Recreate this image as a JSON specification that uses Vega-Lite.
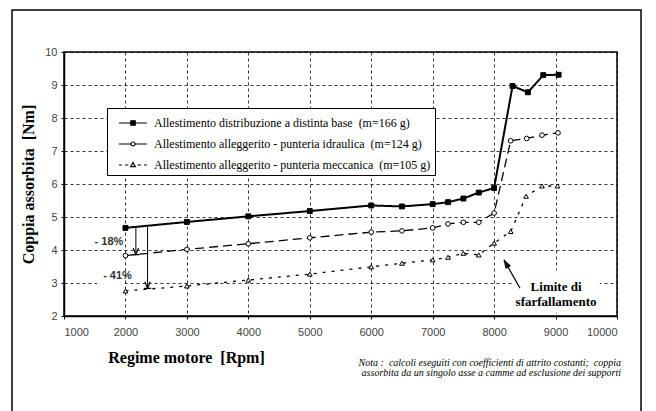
{
  "$schema": "https://vega.github.io/schema/vega-lite/v6.json",
  "width": 553,
  "height": 264,
  "autosize": "none",
  "padding": {"left": 64, "top": 52, "right": 39, "bottom": 95},
  "background": "white",
  "config": {"view": {"stroke": "black", "strokeWidth": 1.5}},
  "datasets": {
    "curves": [
      {"rpm": 2000, "coppia": 4.67, "series": "Allestimento distribuzione a distinta base\u00a0\u00a0(m=166 g)"},
      {"rpm": 3000, "coppia": 4.85, "series": "Allestimento distribuzione a distinta base\u00a0\u00a0(m=166 g)"},
      {"rpm": 4000, "coppia": 5.02, "series": "Allestimento distribuzione a distinta base\u00a0\u00a0(m=166 g)"},
      {"rpm": 5000, "coppia": 5.18, "series": "Allestimento distribuzione a distinta base\u00a0\u00a0(m=166 g)"},
      {"rpm": 6000, "coppia": 5.35, "series": "Allestimento distribuzione a distinta base\u00a0\u00a0(m=166 g)"},
      {"rpm": 6500, "coppia": 5.32, "series": "Allestimento distribuzione a distinta base\u00a0\u00a0(m=166 g)"},
      {"rpm": 7000, "coppia": 5.39, "series": "Allestimento distribuzione a distinta base\u00a0\u00a0(m=166 g)"},
      {"rpm": 7250, "coppia": 5.45, "series": "Allestimento distribuzione a distinta base\u00a0\u00a0(m=166 g)"},
      {"rpm": 7500, "coppia": 5.56, "series": "Allestimento distribuzione a distinta base\u00a0\u00a0(m=166 g)"},
      {"rpm": 7750, "coppia": 5.74, "series": "Allestimento distribuzione a distinta base\u00a0\u00a0(m=166 g)"},
      {"rpm": 8000, "coppia": 5.88, "series": "Allestimento distribuzione a distinta base\u00a0\u00a0(m=166 g)"},
      {"rpm": 8300, "coppia": 8.97, "series": "Allestimento distribuzione a distinta base\u00a0\u00a0(m=166 g)"},
      {"rpm": 8550, "coppia": 8.78, "series": "Allestimento distribuzione a distinta base\u00a0\u00a0(m=166 g)"},
      {"rpm": 8800, "coppia": 9.3, "series": "Allestimento distribuzione a distinta base\u00a0\u00a0(m=166 g)"},
      {"rpm": 9050, "coppia": 9.31, "series": "Allestimento distribuzione a distinta base\u00a0\u00a0(m=166 g)"},
      {"rpm": 2000, "coppia": 3.83, "series": "Allestimento alleggerito - punteria idraulica\u00a0\u00a0(m=124 g)"},
      {"rpm": 3000, "coppia": 4.02, "series": "Allestimento alleggerito - punteria idraulica\u00a0\u00a0(m=124 g)"},
      {"rpm": 4000, "coppia": 4.19, "series": "Allestimento alleggerito - punteria idraulica\u00a0\u00a0(m=124 g)"},
      {"rpm": 5000, "coppia": 4.37, "series": "Allestimento alleggerito - punteria idraulica\u00a0\u00a0(m=124 g)"},
      {"rpm": 6000, "coppia": 4.54, "series": "Allestimento alleggerito - punteria idraulica\u00a0\u00a0(m=124 g)"},
      {"rpm": 6500, "coppia": 4.58, "series": "Allestimento alleggerito - punteria idraulica\u00a0\u00a0(m=124 g)"},
      {"rpm": 7000, "coppia": 4.67, "series": "Allestimento alleggerito - punteria idraulica\u00a0\u00a0(m=124 g)"},
      {"rpm": 7250, "coppia": 4.79, "series": "Allestimento alleggerito - punteria idraulica\u00a0\u00a0(m=124 g)"},
      {"rpm": 7500, "coppia": 4.84, "series": "Allestimento alleggerito - punteria idraulica\u00a0\u00a0(m=124 g)"},
      {"rpm": 7750, "coppia": 4.84, "series": "Allestimento alleggerito - punteria idraulica\u00a0\u00a0(m=124 g)"},
      {"rpm": 8000, "coppia": 5.12, "series": "Allestimento alleggerito - punteria idraulica\u00a0\u00a0(m=124 g)"},
      {"rpm": 8270, "coppia": 7.31, "series": "Allestimento alleggerito - punteria idraulica\u00a0\u00a0(m=124 g)"},
      {"rpm": 8530, "coppia": 7.38, "series": "Allestimento alleggerito - punteria idraulica\u00a0\u00a0(m=124 g)"},
      {"rpm": 8780, "coppia": 7.48, "series": "Allestimento alleggerito - punteria idraulica\u00a0\u00a0(m=124 g)"},
      {"rpm": 9040, "coppia": 7.55, "series": "Allestimento alleggerito - punteria idraulica\u00a0\u00a0(m=124 g)"},
      {"rpm": 2000, "coppia": 2.76, "series": "Allestimento alleggerito - punteria meccanica\u00a0\u00a0(m=105 g)"},
      {"rpm": 3000, "coppia": 2.91, "series": "Allestimento alleggerito - punteria meccanica\u00a0\u00a0(m=105 g)"},
      {"rpm": 4000, "coppia": 3.09, "series": "Allestimento alleggerito - punteria meccanica\u00a0\u00a0(m=105 g)"},
      {"rpm": 5000, "coppia": 3.27, "series": "Allestimento alleggerito - punteria meccanica\u00a0\u00a0(m=105 g)"},
      {"rpm": 6000, "coppia": 3.49, "series": "Allestimento alleggerito - punteria meccanica\u00a0\u00a0(m=105 g)"},
      {"rpm": 6500, "coppia": 3.6, "series": "Allestimento alleggerito - punteria meccanica\u00a0\u00a0(m=105 g)"},
      {"rpm": 7000, "coppia": 3.7, "series": "Allestimento alleggerito - punteria meccanica\u00a0\u00a0(m=105 g)"},
      {"rpm": 7250, "coppia": 3.78, "series": "Allestimento alleggerito - punteria meccanica\u00a0\u00a0(m=105 g)"},
      {"rpm": 7500, "coppia": 3.9, "series": "Allestimento alleggerito - punteria meccanica\u00a0\u00a0(m=105 g)"},
      {"rpm": 7750, "coppia": 3.85, "series": "Allestimento alleggerito - punteria meccanica\u00a0\u00a0(m=105 g)"},
      {"rpm": 8000, "coppia": 4.21, "series": "Allestimento alleggerito - punteria meccanica\u00a0\u00a0(m=105 g)"},
      {"rpm": 8270, "coppia": 4.56, "series": "Allestimento alleggerito - punteria meccanica\u00a0\u00a0(m=105 g)"},
      {"rpm": 8520, "coppia": 5.63, "series": "Allestimento alleggerito - punteria meccanica\u00a0\u00a0(m=105 g)"},
      {"rpm": 8780, "coppia": 5.94, "series": "Allestimento alleggerito - punteria meccanica\u00a0\u00a0(m=105 g)"},
      {"rpm": 9030, "coppia": 5.94, "series": "Allestimento alleggerito - punteria meccanica\u00a0\u00a0(m=105 g)"}
    ],
    "frame": [{"rpm": 154, "rpm2": 10391, "coppia": 11.27, "coppia2": -1.2}],
    "boxes": [
      {"rpm": 8300, "rpm2": 9720, "coppia": 3.39, "coppia2": 2.1},
      {"rpm": 1537, "rpm2": 1990, "coppia": 3.45, "coppia2": 2.94}
    ],
    "drops": [
      {"rpm": 2170, "coppia": 4.67, "coppia2": 3.86},
      {"rpm": 2360, "coppia": 4.7, "coppia2": 2.84}
    ],
    "dropHeads": [
      {"rpm": 2170, "coppia": 3.86},
      {"rpm": 2360, "coppia": 2.84}
    ],
    "pointer": [{"rpm": 8422, "coppia": 2.84, "rpm2": 8161, "coppia2": 3.7}],
    "pointerHead": [{"rpm": 8161, "coppia": 3.7}],
    "labels": [
      {"rpm": 1732, "coppia": 4.24, "text": "- 18%"},
      {"rpm": 1871, "coppia": 3.21, "text": "- 41%"}
    ],
    "limite": [
      {"rpm": 9008, "coppia": 2.88, "text": "Limite di"},
      {"rpm": 9008, "coppia": 2.42, "text": "sfarfallamento"}
    ],
    "nota": [
      {"rpm": 10066, "coppia": 0.58, "text": "Nota :\u00a0\u00a0calcoli eseguiti con coefficienti di attrito costanti;\u00a0\u00a0coppia"},
      {"rpm": 10066, "coppia": 0.27, "text": "assorbita da un singolo asse a camme ad esclusione dei supporti"}
    ]
  },
  "encoding": {
    "x": {
      "field": "rpm", "type": "quantitative",
      "scale": {"domain": [1000, 10000], "nice": false},
      "axis": {
        "values": [1000, 2000, 3000, 4000, 5000, 6000, 7000, 8000, 9000, 10000],
        "format": "d",
        "labelOverlap": false,
        "title": "Regime motore\u00a0\u00a0[Rpm]",
        "grid": true, "gridDash": [3, 3], "gridColor": "black", "gridWidth": 0.8,
        "domainColor": "black", "domainWidth": 1.5,
        "tickColor": "black", "tickSize": 3,
        "labelFont": "Liberation Sans", "labelFontSize": 11, "labelColor": "#444", "labelPadding": 7,
        "titleFont": "Liberation Serif", "titleFontSize": 16, "titleFontWeight": "bold", "titleColor": "black",
        "titleX": 122, "titleY": 41, "titleBaseline": "middle", "titleAlign": "center"
      }
    },
    "y": {
      "field": "coppia", "type": "quantitative",
      "scale": {"domain": [2, 10], "nice": false},
      "axis": {
        "values": [2, 3, 4, 5, 6, 7, 8, 9, 10],
        "labelOverlap": false,
        "title": "Coppia assorbita\u00a0\u00a0[Nm]",
        "grid": true, "gridDash": [3, 3], "gridColor": "black", "gridWidth": 0.8,
        "domainColor": "black", "domainWidth": 1.5,
        "tickColor": "black", "tickSize": 3,
        "labelFont": "Liberation Sans", "labelFontSize": 11, "labelColor": "#444", "labelPadding": 4,
        "titleFont": "Liberation Serif", "titleFontSize": 16, "titleFontWeight": "bold", "titleColor": "black",
        "titlePadding": 8
      }
    }
  },
  "layer": [
    {
      "data": {"name": "frame"},
      "mark": {"type": "rect", "filled": false, "stroke": "black", "strokeWidth": 1.5, "clip": false},
      "encoding": {"x2": {"field": "rpm2"}, "y2": {"field": "coppia2"}}
    },
    {
      "data": {"name": "boxes"},
      "mark": {"type": "rect", "fill": "white", "strokeWidth": 0},
      "encoding": {"x2": {"field": "rpm2"}, "y2": {"field": "coppia2"}}
    },
    {
      "data": {"name": "curves"},
      "mark": {"type": "line", "color": "black"},
      "encoding": {
        "detail": {"field": "series", "type": "nominal"},
        "strokeDash": {
          "condition": [
            {"test": {"field": "series", "equal": "Allestimento distribuzione a distinta base\u00a0\u00a0(m=166 g)"}, "value": [1, 0]},
            {"test": {"field": "series", "equal": "Allestimento alleggerito - punteria idraulica\u00a0\u00a0(m=124 g)"}, "value": [9, 5]}
          ],
          "value": [3, 6]
        },
        "strokeWidth": {
          "condition": {"test": {"field": "series", "equal": "Allestimento distribuzione a distinta base\u00a0\u00a0(m=166 g)"}, "value": 2},
          "value": 1.3
        }
      }
    },
    {
      "data": {"name": "curves"},
      "transform": [{"filter": {"field": "series", "equal": "Allestimento distribuzione a distinta base\u00a0\u00a0(m=166 g)"}}],
      "mark": {"type": "point", "shape": "square", "filled": true, "fill": "black", "stroke": "black", "strokeWidth": 1, "size": 24, "opacity": 1}
    },
    {
      "data": {"name": "curves"},
      "transform": [{"filter": {"field": "series", "equal": "Allestimento alleggerito - punteria idraulica\u00a0\u00a0(m=124 g)"}}],
      "mark": {"type": "point", "shape": "circle", "filled": true, "fill": "white", "stroke": "black", "strokeWidth": 1, "size": 22, "opacity": 1}
    },
    {
      "data": {"name": "curves"},
      "transform": [{"filter": {"field": "series", "equal": "Allestimento alleggerito - punteria meccanica\u00a0\u00a0(m=105 g)"}}],
      "mark": {"type": "point", "shape": "triangle-up", "filled": true, "fill": "white", "stroke": "black", "strokeWidth": 1, "size": 22, "opacity": 1}
    },
    {
      "data": {"name": "curves"},
      "mark": {"type": "point", "filled": true, "strokeWidth": 1.2, "size": 0, "opacity": 1},
      "encoding": {
        "shape": {
          "field": "series", "type": "nominal",
          "scale": {
            "domain": [
              "Allestimento distribuzione a distinta base\u00a0\u00a0(m=166 g)",
              "Allestimento alleggerito - punteria idraulica\u00a0\u00a0(m=124 g)",
              "Allestimento alleggerito - punteria meccanica\u00a0\u00a0(m=105 g)"
            ],
            "range": [
              "M-1.4,0H1.4M-0.22,-0.22H0.22V0.22H-0.22Z",
              "M-1.4,0H-0.2M0.2,0H1.4M-0.2,0A0.2,0.2 0 1,0 0.2,0A0.2,0.2 0 1,0 -0.2,0Z",
              "M-1.4,0H-1.1M-0.8,0H-0.45M0.45,0H0.8M1.1,0H1.4M0,-0.25L0.23,0.16H-0.23Z"
            ]
          },
          "legend": {
            "orient": "none", "legendX": 43, "legendY": 56, "title": null,
            "strokeColor": "black", "fillColor": "white", "padding": 4,
            "symbolSize": 400, "symbolOffset": 11, "labelOffset": 10,
            "labelFont": "Liberation Serif", "labelFontSize": 12, "labelColor": "black",
            "rowPadding": 4, "symbolStrokeColor": "black", "symbolStrokeWidth": 1.2, "symbolOpacity": 1,
            "labelLimit": 400,
            "labelExpr": "datum.label + '\u00a0\u00a0\u00a0\u00a0\u00a0'"
          }
        },
        "fill": {
          "field": "series", "type": "nominal",
          "scale": {
            "domain": [
              "Allestimento distribuzione a distinta base\u00a0\u00a0(m=166 g)",
              "Allestimento alleggerito - punteria idraulica\u00a0\u00a0(m=124 g)",
              "Allestimento alleggerito - punteria meccanica\u00a0\u00a0(m=105 g)"
            ],
            "range": ["black", "white", "white"]
          },
          "legend": {
            "orient": "none", "legendX": 43, "legendY": 56, "title": null,
            "strokeColor": "black", "fillColor": "white", "padding": 4,
            "symbolSize": 400, "symbolOffset": 11, "labelOffset": 10,
            "labelFont": "Liberation Serif", "labelFontSize": 12, "labelColor": "black",
            "rowPadding": 4, "symbolStrokeColor": "black", "symbolStrokeWidth": 1.2, "symbolOpacity": 1,
            "labelLimit": 400,
            "labelExpr": "datum.label + '\u00a0\u00a0\u00a0\u00a0\u00a0'"
          }
        },
        "stroke": {
          "field": "series", "type": "nominal",
          "scale": {
            "domain": [
              "Allestimento distribuzione a distinta base\u00a0\u00a0(m=166 g)",
              "Allestimento alleggerito - punteria idraulica\u00a0\u00a0(m=124 g)",
              "Allestimento alleggerito - punteria meccanica\u00a0\u00a0(m=105 g)"
            ],
            "range": ["black", "black", "black"]
          },
          "legend": {
            "orient": "none", "legendX": 43, "legendY": 56, "title": null,
            "strokeColor": "black", "fillColor": "white", "padding": 4,
            "symbolSize": 400, "symbolOffset": 11, "labelOffset": 10,
            "labelFont": "Liberation Serif", "labelFontSize": 12, "labelColor": "black",
            "rowPadding": 4, "symbolStrokeColor": "black", "symbolStrokeWidth": 1.2, "symbolOpacity": 1,
            "labelLimit": 400,
            "labelExpr": "datum.label + '\u00a0\u00a0\u00a0\u00a0\u00a0'"
          }
        }
      }
    },
    {
      "data": {"name": "drops"},
      "mark": {"type": "rule", "color": "black", "strokeWidth": 1},
      "encoding": {"y2": {"field": "coppia2"}}
    },
    {
      "data": {"name": "dropHeads"},
      "mark": {"type": "point", "shape": "M-0.45,-1.1L0,0L0.45,-1.1M-0.6,0H0.6", "filled": false, "stroke": "black", "strokeWidth": 1.2, "size": 144, "opacity": 1}
    },
    {
      "data": {"name": "pointer"},
      "mark": {"type": "rule", "color": "black", "strokeWidth": 1.2},
      "encoding": {"x2": {"field": "rpm2"}, "y2": {"field": "coppia2"}}
    },
    {
      "data": {"name": "pointerHead"},
      "mark": {"type": "point", "shape": "M0,0L-0.4,1.2L0.4,1.2Z", "angle": 330, "filled": true, "fill": "black", "stroke": "black", "strokeWidth": 0.5, "size": 196, "opacity": 1}
    },
    {
      "data": {"name": "labels"},
      "mark": {"type": "text", "font": "Liberation Sans", "fontSize": 11, "fontWeight": "bold", "color": "#333", "align": "center", "baseline": "middle"},
      "encoding": {"text": {"field": "text"}}
    },
    {
      "data": {"name": "limite"},
      "mark": {"type": "text", "font": "Liberation Serif", "fontSize": 13, "fontWeight": "bold", "color": "black", "align": "center", "baseline": "middle"},
      "encoding": {"text": {"field": "text"}}
    },
    {
      "data": {"name": "nota"},
      "mark": {"type": "text", "font": "Liberation Serif", "fontSize": 10, "fontStyle": "italic", "color": "black", "align": "right", "baseline": "middle", "clip": false},
      "encoding": {"text": {"field": "text"}}
    }
  ]
}
